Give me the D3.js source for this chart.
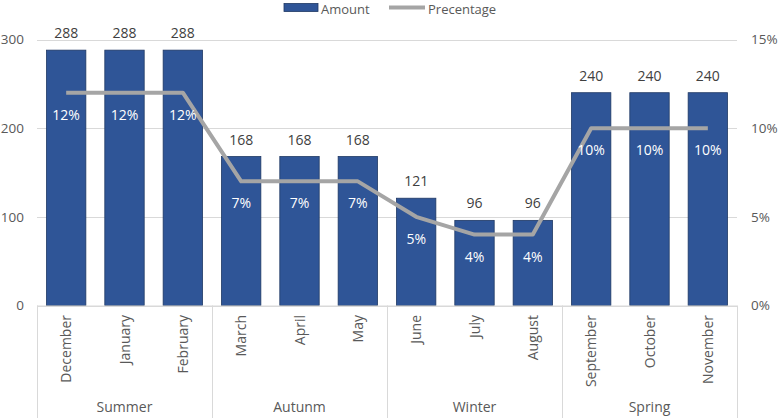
<!DOCTYPE html>
<html><head><meta charset="utf-8">
<script src="https://cdn.jsdelivr.net/npm/d3@7"></script>
<style>body{margin:0;background:#fff}svg{display:block}text{font-family:"Open Sans","Noto Sans",sans-serif}</style>
</head><body><svg id="c" width="778" height="418"></svg>
<script>
const months = ["December","January","February","March","April","May","June","July","August","September","October","November"];
const seasons = ["Summer","Autumn","Winter","Spring"];
const seasonLabels = ["Summer","Autunm","Winter","Spring"];
const amounts = [288,288,288,168,168,168,121,96,96,240,240,240];
const percentages = [12,12,12,7,7,7,5,4,4,10,10,10];
const leftTicks = [0,100,200,300];
const rightTicks = [0,5,10,15];

const svg = d3.select("#c");
const L = 37, R = 737, T = 39.5, B = 305.5;
const x = d3.scaleBand().domain(months).range([L, R]).paddingInner(0.325).paddingOuter(0.1625);
const y = d3.scaleLinear().domain([0,300]).range([B, T]);
const y2 = d3.scaleLinear().domain([0,15]).range([B, T]);
const grey = "#d9d9d9", txt = "#595959";

// gridlines
svg.append("g").selectAll("line").data(leftTicks).join("line")
  .attr("x1", L).attr("x2", R).attr("y1", d=>Math.round(y(d))+0.5).attr("y2", d=>Math.round(y(d))+0.5)
  .attr("stroke", grey).attr("stroke-width",1);

// left axis
const ya = svg.append("g").attr("transform",`translate(24,0)`).call(d3.axisLeft(y).tickValues(leftTicks).tickSize(0).tickPadding(0));
ya.select(".domain").remove();
ya.selectAll("text").attr("font-size",13.5).attr("fill",txt).attr("font-family","Open Sans");
// right axis
const yb = svg.append("g").attr("transform",`translate(751,0)`).call(d3.axisRight(y2).tickValues(rightTicks).tickSize(0).tickPadding(0).tickFormat(d=>d+"%"));
yb.select(".domain").remove();
yb.selectAll("text").attr("font-size",13.5).attr("fill",txt).attr("font-family","Open Sans");

// bars
svg.append("g").selectAll("rect").data(months).join("rect")
  .attr("x", (d)=>x(d)).attr("width", x.bandwidth())
  .attr("y", (d,i)=>y(amounts[i])).attr("height",(d,i)=>B - y(amounts[i]))
  .attr("fill","#2f5597").attr("stroke","#1f3864").attr("stroke-width",0.8);

// value labels
svg.append("g").selectAll("text").data(months).join("text")
  .attr("x", d=>x(d)+x.bandwidth()/2).attr("y",(d,i)=>y(amounts[i])-12)
  .attr("text-anchor","middle").attr("font-size",14).attr("fill","#404040")
  .text((d,i)=>amounts[i]);

// line
const line = d3.line().x((d,i)=>x(months[i])+x.bandwidth()/2).y(d=>y2(d));
svg.append("path").datum(percentages).attr("d", line).attr("fill","none")
  .attr("stroke","#a5a5a5").attr("stroke-width",4).attr("stroke-linejoin","round");

// percent labels
svg.append("g").selectAll("text").data(months).join("text")
  .attr("x", d=>x(d)+x.bandwidth()/2).attr("y",(d,i)=>y2(percentages[i])+27)
  .attr("text-anchor","middle").attr("font-size",14).attr("fill","#ffffff")
  .text((d,i)=>percentages[i]+"%");

// category axis
svg.append("line").attr("x1",L).attr("x2",R).attr("y1",B+0.5).attr("y2",B+0.5).attr("stroke",grey);
const groupW = (R-L)/seasons.length;
svg.append("g").selectAll("line").data(d3.range(seasons.length+1)).join("line")
  .attr("x1", i=>Math.round(L+i*groupW)+0.5).attr("x2", i=>Math.round(L+i*groupW)+0.5)
  .attr("y1", B).attr("y2", 418).attr("stroke", grey);
svg.append("g").selectAll("text").data(months).join("text")
  .attr("transform", d=>`translate(${x(d)+x.bandwidth()/2+5},315) rotate(-90)`)
  .attr("text-anchor","end").attr("font-size",14).attr("fill",txt).text(d=>d);
svg.append("g").selectAll("text").data(seasonLabels).join("text")
  .attr("x",(d,i)=>L+(i+0.5)*groupW).attr("y",412)
  .attr("text-anchor","middle").attr("font-size",14).attr("fill",txt).text(d=>d);

// legend
svg.append("rect").attr("x",284).attr("y",3.5).attr("width",34).attr("height",8).attr("fill","#2f5597").attr("stroke","#1f3864").attr("stroke-width",0.8);
svg.append("text").attr("x",321).attr("y",14).attr("font-size",13).attr("fill",txt).text("Amount");
svg.append("line").attr("x1",389).attr("x2",425).attr("y1",7.5).attr("y2",7.5).attr("stroke","#a5a5a5").attr("stroke-width",4);
svg.append("text").attr("x",428).attr("y",14).attr("font-size",13).attr("fill",txt).text("Precentage");
</script></body></html>
